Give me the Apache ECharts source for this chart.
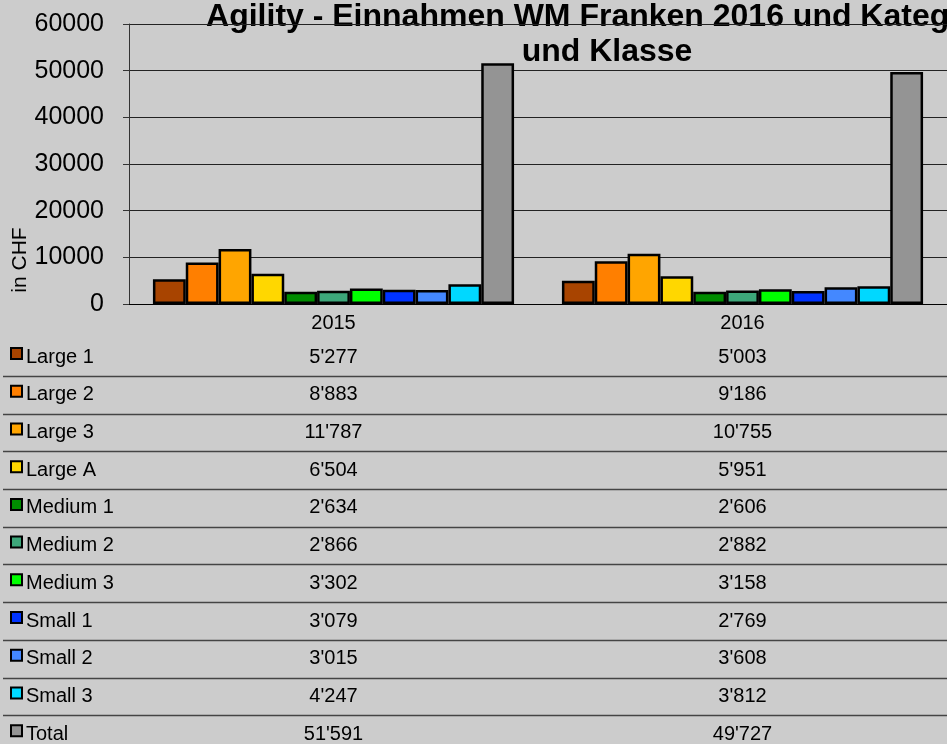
<!DOCTYPE html>
<html><head><meta charset="utf-8">
<script src="https://cdn.jsdelivr.net/npm/echarts@6/dist/echarts.min.js"></script>
<style>html,body{margin:0;padding:0;background:#cccccc}#c{width:947px;height:744px}</style>
</head><body><div id="c"></div>
<script>
const titleText = 'Agility - Einnahmen WM Franken 2016 und Kategorie\nund Klasse';
const yAxisName = 'in CHF';
const years = ['2015', '2016'];
const seriesNames = ['Large 1','Large 2','Large 3','Large A','Medium 1','Medium 2','Medium 3','Small 1','Small 2','Small 3','Total'];
const seriesColors = ['#a84400','#ff7f00','#ffa500','#ffd700','#008c00','#3da77a','#00ff00','#0033ff','#4488ff','#00d8ff','#949494'];
const values2015 = [5277, 8883, 11787, 6504, 2634, 2866, 3302, 3079, 3015, 4247, 51591];
const values2016 = [5003, 9186, 10755, 5951, 2606, 2882, 3158, 2769, 3608, 3812, 49727];
const yMin = 0, yMax = 60000, yStep = 10000;

const FONT = "'Liberation Sans', Arial, sans-serif";
function fmt(v){ return String(v).replace(/\B(?=(\d{3})+(?!\d))/g, "'"); }

const chart = echarts.init(document.getElementById('c'), null, {renderer:'canvas'});
const series = seriesNames.map((n, i) => ({
  name: n, type: 'bar',
  data: [values2015[i], values2016[i]],
  barGap: '0%', barCategoryGap: '11.7%',
  itemStyle: { color: seriesColors[i], borderColor: '#000', borderWidth: 2.5 },
  emphasis: { disabled: true }, z: 3
}));

chart.setOption({
  backgroundColor: '#cccccc',
  animation: false,
  grid: { left: 129, right: -4, top: 24, bottom: 440, containLabel: false },
  xAxis: {
    type: 'category', data: years,
    axisLine: { show: true, lineStyle: { color: '#000', width: 1 } },
    axisTick: { show: false },
    axisLabel: { color: '#000', fontFamily: FONT, fontSize: 20, margin: 9 }
  },
  yAxis: {
    type: 'value', min: yMin, max: yMax, interval: yStep,
    axisLine: { show: true, lineStyle: { color: '#333', width: 1 } },
    axisTick: { show: true, length: 6, lineStyle: { color: '#333' } },
    axisLabel: { color: '#000', fontFamily: FONT, fontSize: 25, margin: 25, formatter: v => String(v) },
    splitLine: { show: true, lineStyle: { color: '#222', width: 1 } }
  },
  series: series
});

const g = [];
// title
g.push({ type: 'text', x: 607, y: 0, z: -1, style: {
  text: titleText, font: "bold 32px " + FONT, fill: '#000',
  textAlign: 'center', textVerticalAlign: 'top', lineHeight: 35 } });
// y-axis name
g.push({ type: 'text', x: 20, y: 260, rotation: Math.PI/2, z: 10, style: {
  text: yAxisName, font: "21px " + FONT, fill: '#000',
  textAlign: 'center', textVerticalAlign: 'middle' } });

const xs = years.map(y => chart.convertToPixel({ xAxisIndex: 0 }, y));
const rowH = 37.72, firstRow = 357;
seriesNames.forEach((n, i) => {
  const cy = firstRow + i * rowH;
  g.push({ type: 'rect', shape: { x: 11, y: cy - 9, width: 11, height: 11 },
    style: { fill: seriesColors[i], stroke: '#000', lineWidth: 2 } });
  g.push({ type: 'text', x: 26, y: cy, style: { text: n, font: "20px " + FONT, fill: '#000',
    textAlign: 'left', textVerticalAlign: 'middle' } });
  const vals = [values2015[i], values2016[i]];
  vals.forEach((v, k) => {
    g.push({ type: 'text', x: xs[k], y: cy, style: { text: fmt(v), font: "20px " + FONT, fill: '#000',
      textAlign: 'center', textVerticalAlign: 'middle' } });
  });
  if (i < seriesNames.length - 1) {
    const ly = Math.round(cy + rowH / 2) + 0.5;
    g.push({ type: 'line', shape: { x1: 3, y1: ly, x2: 947, y2: ly },
      style: { stroke: '#444', lineWidth: 1.5 } });
  }
});
chart.setOption({ graphic: g });
</script></body></html>
